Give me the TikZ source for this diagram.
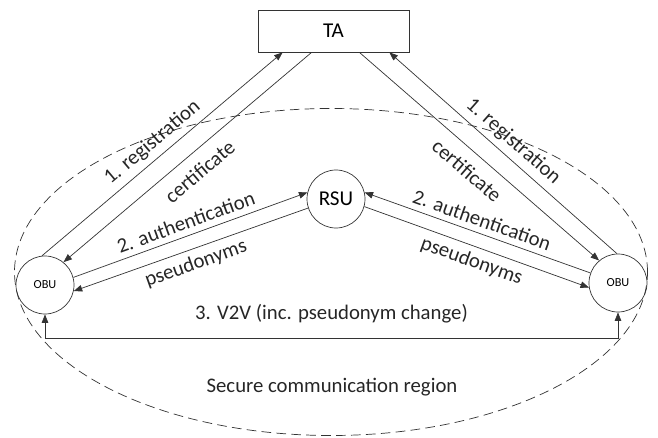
\documentclass[tikz,border=0pt]{standalone}
\usepackage{fontspec}
\setmainfont{Carlito}
\usetikzlibrary{arrows.meta}
\begin{document}
\begin{tikzpicture}[
  font=\fontsize{11.8}{14}\selectfont,
  line/.style={draw=black!80},
  >={Triangle[length=1.7mm,width=1.3mm]},
  unit/.style={circle,draw=black!80,minimum size=1.16cm,inner sep=0pt},
  lbl/.style={sloped,text=black!85}]
\useasboundingbox (0,0) rectangle (13.16,8.74);
\draw[line,dash pattern=on 5.5pt off 3pt] (6.62,3.30) ellipse [x radius=6.33, y radius=3.27];
\node[draw=black!80,minimum width=3.02cm,minimum height=0.84cm,font=\fontsize{12}{14}\selectfont] (ta) at (6.67,8.12) {TA};
\node[unit,font=\fontsize{12}{14}\selectfont] (rsu) at (6.72,4.76) {RSU};
\node[unit,font=\fontsize{7}{8}\selectfont] (obuL) at (0.90,3.04) {OBU};
\node[unit,font=\fontsize{7}{8}\selectfont] (obuR) at (12.36,3.08) {OBU};
\coordinate (ta1) at ([xshift=0.50cm]ta.south west);
\coordinate (ta2) at ([xshift=1.08cm]ta.south west);
\coordinate (ta3) at ([xshift=-1.00cm]ta.south east);
\coordinate (ta4) at ([xshift=-0.40cm]ta.south east);
\draw[line,->] (obuL.96) -- node[lbl,above]{1. registration} (ta1);
\draw[line,<-] (obuL.51) -- node[lbl,below=3pt]{certificate} (ta2);
\draw[line,<-] (ta4) -- node[lbl,above]{1. registration} (obuR.92);
\draw[line,->] (ta3) -- node[lbl,below=3pt]{certificate} (obuR.130);
\draw[line,->] (obuL.15) -- node[lbl,above]{2. authentication} (rsu.167);
\draw[line,<-] (obuL.-12) -- node[lbl,below]{pseudonyms} (rsu.198);
\draw[line,<-] (rsu.13) -- node[lbl,above]{2. authentication} (obuR.160);
\draw[line,->] (rsu.345) -- node[lbl,below]{pseudonyms} (obuR.189);
\coordinate (v2v) at ([yshift=-0.48cm]obuL.south);
\draw[line,<->] (obuL.south) -- (v2v) -- node[above=5pt,text=black!85]{3. V2V (inc. pseudonym change)} (v2v -| obuR.south) -- (obuR.south);
\node[text=black!85] (region) at (6.64,1.0) {Secure communication region};
\end{tikzpicture}
\end{document}
